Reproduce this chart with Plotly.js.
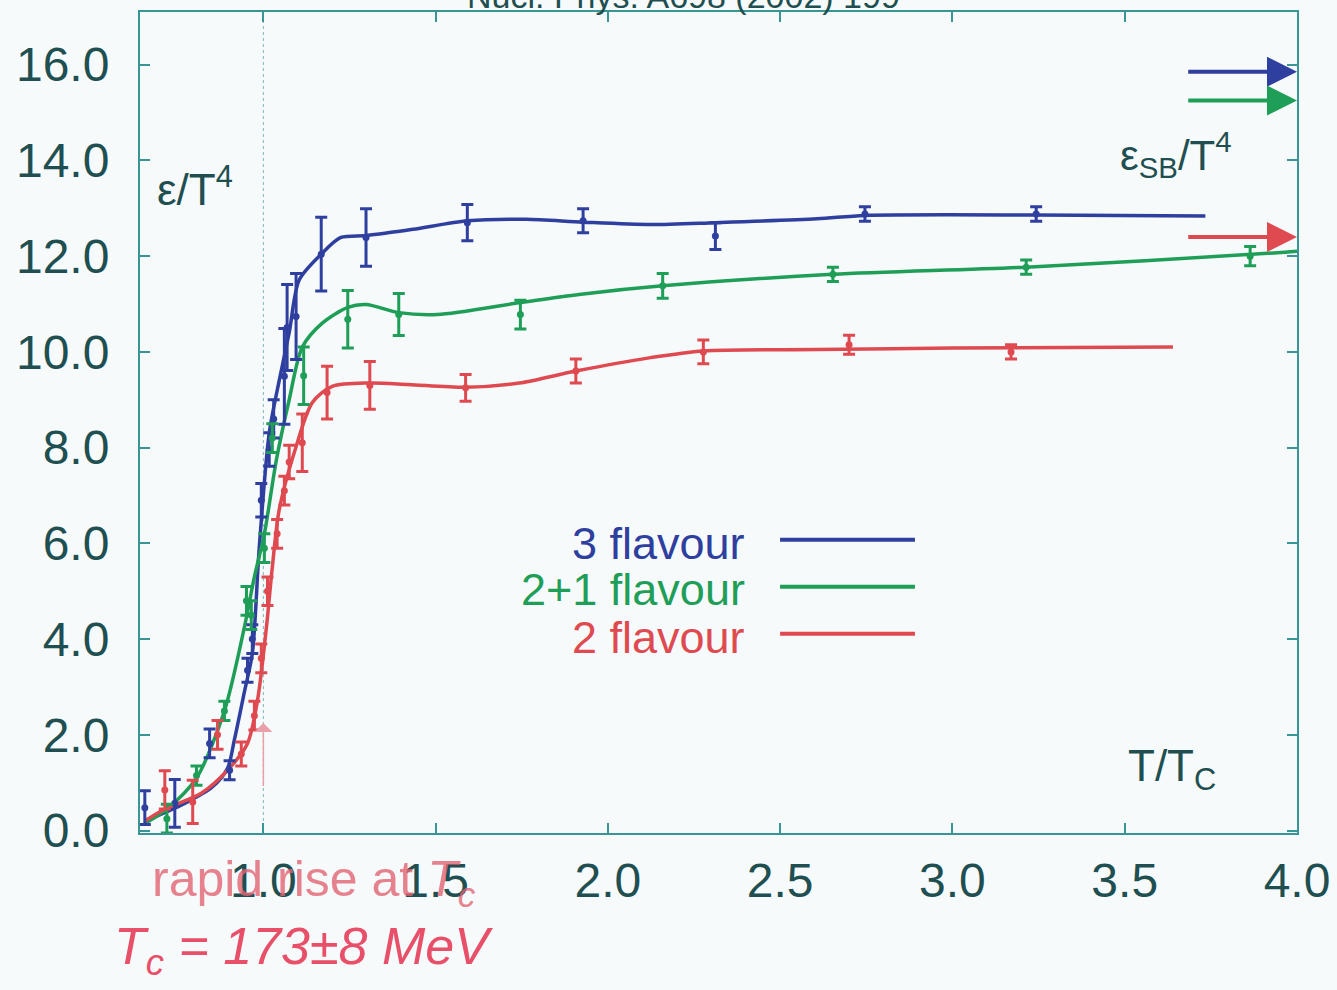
<!DOCTYPE html>
<html>
<head>
<meta charset="utf-8">
<script src="https://cdn.plot.ly/plotly-3.0.1.min.js"></script>
<style>html,body{margin:0;padding:0;background:#f6fafb;}#chart{width:1337px;height:990px;}</style>
</head>
<body>
<div id="chart"></div>
<script>
// ---------- data ----------
const seriesNames = ['3 flavour', '2+1 flavour', '2 flavour'];

// lattice points (T/Tc, eps/T^4, error)
const blueX = [0.656, 0.743, 0.844, 0.902, 0.954, 0.968, 0.994, 1.017, 1.03, 1.061, 1.069, 1.095, 1.168, 1.298, 1.592, 1.928, 2.312, 2.746, 3.243];
const blueY = [0.48, 0.57, 1.82, 1.26, 3.35, 4.0, 6.9, 7.96, 8.6, 9.49, 10.51, 10.74, 12.04, 12.39, 12.7, 12.74, 12.42, 12.88, 12.88];
const blueErr = [0.35, 0.5, 0.3, 0.2, 0.25, 0.3, 0.35, 0.35, 0.4, 1.0, 0.9, 0.9, 0.77, 0.6, 0.38, 0.25, 0.28, 0.15, 0.15];

const greenX = [0.72, 0.806, 0.887, 0.951, 0.965, 1.003, 1.026, 1.117, 1.245, 1.393, 1.746, 2.159, 2.653, 3.214, 3.864];
const greenY = [0.25, 1.15, 2.5, 4.8, 4.5, 5.9, 8.2, 9.5, 10.68, 10.78, 10.78, 11.38, 11.62, 11.77, 12.0];
const greenErr = [0.3, 0.2, 0.2, 0.3, 0.3, 0.3, 0.3, 0.6, 0.6, 0.44, 0.3, 0.26, 0.15, 0.15, 0.2];

const redX = [0.714, 0.795, 0.867, 0.936, 0.974, 0.994, 1.012, 1.04, 1.061, 1.075, 1.113, 1.185, 1.309, 1.587, 1.907, 2.277, 2.70, 3.17];
const redY = [0.85, 0.6, 2.0, 1.6, 2.4, 3.6, 5.0, 6.2, 7.1, 7.7, 8.1, 9.15, 9.3, 9.25, 9.6, 10.0, 10.15, 10.0];
const redErr = [0.4, 0.45, 0.3, 0.25, 0.3, 0.3, 0.3, 0.3, 0.3, 0.35, 0.6, 0.55, 0.5, 0.28, 0.25, 0.25, 0.2, 0.15];

// smooth fit curves
const blueCurveX = [0.656, 0.772, 0.850, 0.896, 0.916, 0.945, 0.968, 0.988, 1.017, 1.046, 1.075, 1.104, 1.168, 1.225, 1.298, 1.434, 1.592, 1.763, 1.928, 2.124, 2.312, 2.607, 2.746, 3.243, 3.734];
const blueCurveY = [0.2, 0.57, 0.9, 1.3, 1.9, 2.9, 3.7, 5.9, 8.3, 9.4, 10.4, 11.5, 12.04, 12.39, 12.43, 12.56, 12.74, 12.77, 12.71, 12.66, 12.7, 12.78, 12.85, 12.86, 12.84];

const greenCurveX = [0.656, 0.72, 0.806, 0.887, 0.945, 0.974, 1.003, 1.038, 1.075, 1.113, 1.171, 1.245, 1.298, 1.393, 1.505, 1.746, 1.916, 2.159, 2.653, 3.214, 3.965, 4.0];
const greenCurveY = [0.15, 0.45, 1.1, 2.5, 4.25, 5.3, 6.2, 7.75, 9.0, 10.1, 10.6, 10.93, 10.99, 10.82, 10.78, 11.03, 11.2, 11.38, 11.62, 11.77, 12.08, 12.1];

const redCurveX = [0.656, 0.714, 0.82, 0.896, 0.954, 0.983, 1.009, 1.026, 1.046, 1.095, 1.142, 1.2, 1.309, 1.42, 1.587, 1.743, 1.907, 2.124, 2.277, 2.607, 3.0, 3.64];
const redCurveY = [0.2, 0.45, 0.78, 1.26, 1.82, 2.72, 4.25, 5.5, 6.7, 8.02, 8.94, 9.28, 9.35, 9.32, 9.26, 9.35, 9.6, 9.88, 10.02, 10.05, 10.08, 10.1];

// Stefan-Boltzmann limits (arrows at right edge)
const sbLimits = [15.85, 15.25, 12.4];
const sbArrowStart = 3.68;
const sbArrowEnd = 4.0;

// Tc marker
const tcLine = 1.0;
const tcArrowFrom = 0.9;
const tcArrowTo = 2.25;

// ticks
const xTickVals = [1.0, 1.5, 2.0, 2.5, 3.0, 3.5, 4.0];
const xTickText = ['1.0', '1.5', '2.0', '2.5', '3.0', '3.5', '4.0'];
const yTickVals = [0, 2, 4, 6, 8, 10, 12, 14, 16];
const yTickText = ['0.0', '2.0', '4.0', '6.0', '8.0', '10.0', '12.0', '14.0', '16.0'];

// ---------- style ----------
const colors = ['#2f3f9f', '#1f9e58', '#df4a50'];
const axisColor = '#3a9696';
const textColor = '#1f4f50';
const FONT = 'Liberation Sans, Arial, sans-serif';

const pts = [[blueX, blueY, blueErr], [greenX, greenY, greenErr], [redX, redY, redErr]];
const curves = [[blueCurveX, blueCurveY], [greenCurveX, greenCurveY], [redCurveX, redCurveY]];

const traces = [];
curves.forEach((c, i) => {
  traces.push({
    x: c[0], y: c[1], type: 'scatter', mode: 'lines', name: seriesNames[i],
    line: {color: colors[i], width: 3.5, shape: 'spline', smoothing: 0.8},
    showlegend: false, hoverinfo: 'skip'
  });
});
pts.forEach((p, i) => {
  traces.push({
    x: p[0], y: p[1], type: 'scatter', mode: 'markers', name: seriesNames[i] + ' data',
    marker: {color: colors[i], size: 7},
    error_y: {type: 'data', array: p[2], visible: true, color: colors[i], thickness: 3, width: 6},
    showlegend: false
  });
});

const annotations = [];
// SB arrows
sbLimits.forEach((v, i) => {
  annotations.push({
    xref: 'x', yref: 'y', axref: 'x', ayref: 'y',
    x: sbArrowEnd, y: v, ax: sbArrowStart, ay: v,
    text: '', showarrow: true, arrowhead: 2, arrowsize: 1.5, arrowwidth: 4,
    arrowcolor: colors[i], standoff: 0, startstandoff: 0
  });
});
// Tc arrow
annotations.push({
  xref: 'x', yref: 'y', axref: 'x', ayref: 'y',
  x: tcLine, y: tcArrowTo, ax: tcLine, ay: tcArrowFrom,
  text: '', showarrow: true, arrowhead: 1, arrowsize: 2, arrowwidth: 1.5,
  arrowcolor: '#e9a0a8'
});

// axis labels
annotations.push({xref: 'paper', yref: 'paper', x: 0.013, y: 0.787, xanchor: 'left', yanchor: 'middle',
  text: 'ε/T<sup>4</sup>', showarrow: false, font: {family: FONT, size: 44, color: textColor}});
annotations.push({xref: 'paper', yref: 'paper', x: 0.895, y: 0.826, xanchor: 'center', yanchor: 'middle',
  text: 'ε<sub>SB</sub>/T<sup>4</sup>', showarrow: false, font: {family: FONT, size: 42, color: textColor}});
annotations.push({xref: 'paper', yref: 'paper', x: 0.892, y: 0.078, xanchor: 'center', yanchor: 'middle',
  text: 'T/T<sub>C</sub>', showarrow: false, font: {family: FONT, size: 44, color: textColor}});

// legend (text left of line)
const legY = [0.3532, 0.296, 0.2387];
const shapes = [];
seriesNames.forEach((n, i) => {
  annotations.push({xref: 'paper', yref: 'paper', x: 0.5246, y: legY[i], xanchor: 'right', yanchor: 'middle',
    text: n, showarrow: false, font: {family: FONT, size: 45, color: colors[i]}});
  shapes.push({type: 'line', xref: 'paper', yref: 'paper', x0: 0.5532, x1: 0.6698, y0: legY[i] + 0.004, y1: legY[i] + 0.004,
    line: {color: colors[i], width: 4}});
});

// dotted Tc line
shapes.push({type: 'line', xref: 'x', yref: 'paper', x0: tcLine, x1: tcLine, y0: 0, y1: 1,
  line: {color: '#7fb5b5', width: 1, dash: 'dot'}, layer: 'below'});

// handwritten notes
annotations.push({xref: 'paper', yref: 'paper', x: 0.009, y: -0.06, xanchor: 'left', yanchor: 'middle',
  text: 'rapid rise at <i>T<sub>c</sub></i>', showarrow: false, font: {family: FONT, size: 50, color: 'rgba(226,100,115,0.8)'}});
annotations.push({xref: 'paper', yref: 'paper', x: -0.024, y: -0.143, xanchor: 'left', yanchor: 'middle',
  text: '<i>T<sub>c</sub> = 173±8 MeV</i>', showarrow: false, font: {family: FONT, size: 52, color: '#e8506a'}});
// header fragment at the top edge (cut off in the reference as well)
annotations.push({xref: 'paper', yref: 'paper', x: 0.47, y: 1.02, xanchor: 'center', yanchor: 'middle',
  text: 'Nucl. Phys. A698 (2002) 199', showarrow: false, font: {family: FONT, size: 34, color: textColor}});

const axisCommon = {
  showline: true, linecolor: axisColor, linewidth: 2, mirror: 'ticks',
  ticks: 'inside', ticklen: 10, tickwidth: 2, tickcolor: axisColor,
  showgrid: false, zeroline: false,
  tickfont: {family: FONT, size: 48, color: textColor}
};

const layout = {
  width: 1337, height: 990,
  margin: {l: 140, r: 40, t: 12, b: 157, pad: 0},
  paper_bgcolor: '#f6fafb', plot_bgcolor: '#f6fafb',
  showlegend: false,
  xaxis: Object.assign({}, axisCommon, {range: [0.642, 4.0], tickmode: 'array', tickvals: xTickVals, ticktext: xTickText, ticklabelstandoff: 4}),
  yaxis: Object.assign({}, axisCommon, {range: [-0.05, 17.1], tickmode: 'array', tickvals: yTickVals, ticktext: yTickText, ticklabelstandoff: 19}),
  annotations: annotations,
  shapes: shapes
};

Plotly.newPlot('chart', traces, layout, {displayModeBar: false, staticPlot: true});
</script>
</body>
</html>
